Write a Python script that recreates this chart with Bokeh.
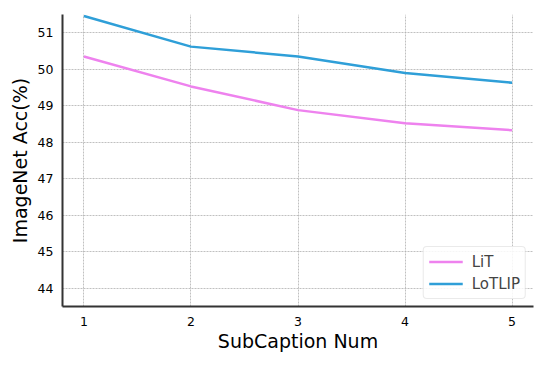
from bokeh.plotting import figure
from bokeh.models import Range1d, FixedTicker, Legend, LegendItem
from bokeh.embed import file_html
from bokeh.resources import INLINE

subcaption_num = [1, 2, 3, 4, 5]
lit_acc = [50.35, 49.53, 48.88, 48.52, 48.33]
lotlip_acc = [51.46, 50.62, 50.35, 49.90, 49.63]
y_ticks = [44, 45, 46, 47, 48, 49, 50, 51]

FONT = "DejaVu Sans"

p = figure(width=548, height=366, output_backend="svg", toolbar_location=None,
           x_range=Range1d(0.8, 5.2), y_range=Range1d(43.5, 51.5),
           min_border_left=62, min_border_right=15, min_border_top=14, min_border_bottom=60)
p.outline_line_color = None
p.background_fill_color = "white"

r1 = p.line(subcaption_num, lit_acc, line_color="violet", line_width=2.5)
r2 = p.line(subcaption_num, lotlip_acc, line_color="#2f9fd8", line_width=2.5)

for ax in (p.xaxis[0], p.yaxis[0]):
    ax.axis_line_color = "#333333"
    ax.axis_line_width = 2
    ax.major_tick_line_color = None
    ax.minor_tick_line_color = None
    ax.major_tick_out = 0
    ax.major_tick_in = 0
    ax.major_label_text_font = FONT
    ax.major_label_text_font_size = "12.5px"
    ax.major_label_text_color = "black"
    ax.axis_label_text_font = FONT
    ax.axis_label_text_font_size = "19px"
    ax.axis_label_text_font_style = "normal"
    ax.axis_label_text_color = "black"

p.xaxis.ticker = FixedTicker(ticks=subcaption_num)
p.yaxis.ticker = FixedTicker(ticks=y_ticks)
p.xaxis.axis_label = "SubCaption Num"
p.yaxis.axis_label = "ImageNet Acc(%)"
p.xaxis.major_label_standoff = 10
p.yaxis.major_label_standoff = 9
p.xaxis.axis_label_standoff = 1
p.yaxis.axis_label_standoff = 4

p.xgrid.ticker = FixedTicker(ticks=subcaption_num)
p.ygrid.ticker = FixedTicker(ticks=y_ticks)
for g in (p.xgrid[0], p.ygrid[0]):
    g.grid_line_color = "#b0b0b0"
    g.grid_line_dash = "2 1"
    g.grid_line_width = 0.8

legend = Legend(items=[LegendItem(label="LiT", renderers=[r1]),
                       LegendItem(label="LoTLIP", renderers=[r2])],
                location="bottom_right")
legend.margin = 7
legend.padding = 5
legend.spacing = 3
legend.glyph_width = 34
legend.glyph_height = 19
legend.label_text_font = FONT
legend.label_text_font_size = "15px"
legend.label_standoff = 9
legend.border_line_color = "#d5d5d5"
legend.border_line_width = 1
legend.border_radius = 4
legend.background_fill_alpha = 0.85
p.add_layout(legend)

open("out.html", "w").write(file_html(p, INLINE))
